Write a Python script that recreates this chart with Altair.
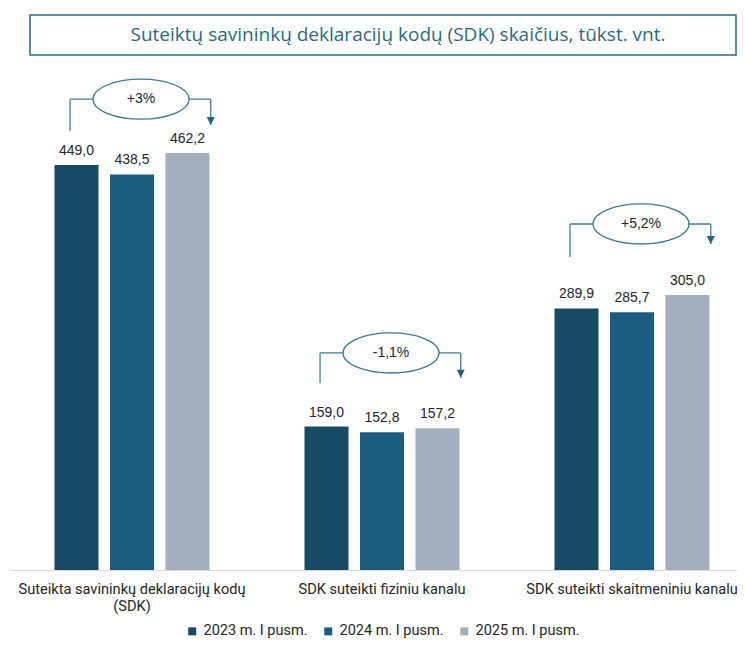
import altair as alt
import pandas as pd

# ---- data ----
categories = [
    "Suteikta savininkų deklaracijų kodų (SDK)",
    "SDK suteikti fiziniu kanalu",
    "SDK suteikti skaitmeniniu kanalu",
]
series = ["2023 m. I pusm.", "2024 m. I pusm.", "2025 m. I pusm."]
values_2023 = [449.0, 159.0, 289.9]
values_2024 = [438.5, 152.8, 285.7]
values_2025 = [462.2, 157.2, 305.0]
change_labels = ["+3%", "-1,1%", "+5,2%"]
# annotation bracket levels (in data units)
bracket_start = [486.7, 207.3, 347.0]
bracket_level = [522.0, 240.6, 383.6]
arrow_tip = [493.3, 213.0, 361.4]
colors = ["#164b63", "#1b5e80", "#a2b0bd"]
title_text = "Suteiktų savininkų deklaracijų kodų (SDK) skaičius, tūkst. vnt."

rows = []
for s, vals in zip(series, [values_2023, values_2024, values_2025]):
    for c, v in zip(categories, vals):
        rows.append({"category": c, "series": s, "value": v,
                     "label": f"{v:.1f}".replace(".", ",")})
bars_df = pd.DataFrame(rows)

ann_df = pd.DataFrame({
    "category": categories,
    "change": change_labels,
    "start": bracket_start,
    "level": bracket_level,
    "tip": arrow_tip,
})
title_df = pd.DataFrame({"t": [title_text]})

LINE = "#3d7c97"
BP_L, BP_R, BP_C = 0.205, 0.875, 0.543

x_scale = alt.Scale(paddingInner=0.16, paddingOuter=0.034, align=1, round=False)
label_expr = ("datum.value == '" + categories[0] + "' ? ['Suteikta savininkų deklaracijų kodų', '(SDK)'] : datum.label")

x_main = alt.X("category:N", sort=categories, scale=x_scale, title=None,
               axis=alt.Axis(labelAngle=0, ticks=False, domainColor="#d9d9d9", domainWidth=1,
                             labelFontSize=14.6, labelFont="Roboto", labelColor="#262626",
                             labelPadding=11, labelLineHeight=17, labelLimit=320,
                             labelBaseline="top", labelExpr=label_expr))
y_main = alt.Y("value:Q", scale=alt.Scale(domain=[0, 554.3], nice=False, zero=True), axis=None, title=None)
xoff = alt.XOffset("series:N", sort=series, scale=alt.Scale(paddingInner=0.207, paddingOuter=0.4955))

base = alt.Chart(bars_df)
bars = base.mark_bar().encode(
    x=x_main,
    xOffset=xoff,
    y=y_main,
    color=alt.Color("series:N", sort=series,
                    scale=alt.Scale(domain=series, range=colors),
                    legend=alt.Legend(orient="none", legendX=175, legendY=554, direction="horizontal",
                                      title=None, symbolType="square", symbolSize=64,
                                      symbolStrokeWidth=0, labelFontSize=14.5, labelFont="Roboto",
                                      labelColor="#262626", columnPadding=13, labelOffset=4, padding=0)),
)
value_labels = base.mark_text(baseline="bottom", dy=-7, fontSize=14, font="Liberation Sans",
                              color="#262626").encode(
    x=alt.X("category:N", sort=categories),
    xOffset=alt.XOffset("series:N", sort=series),
    y=alt.Y("value:Q"),
    text="label:N",
)

ann = alt.Chart(ann_df)
xl = alt.X("category:N", sort=categories, bandPosition=BP_L)
xr = alt.X("category:N", sort=categories, bandPosition=BP_R)
xc = alt.X("category:N", sort=categories, bandPosition=BP_C)

left_v = ann.mark_rule(color=LINE, strokeWidth=1.3).encode(x=xl, y=alt.Y("start:Q"), y2="level:Q")
horiz = ann.mark_rule(color=LINE, strokeWidth=1.3).encode(
    x=xl, x2=alt.X2(field="category", bandPosition=BP_R), y=alt.Y("level:Q"))
right_v = ann.mark_rule(color=LINE, strokeWidth=1.3).encode(x=xr, y=alt.Y("level:Q"), y2="tip:Q")
arrow = ann.mark_point(shape="M-1,-2 L1,-2 L0,0 Z", filled=True, size=64, color="#1f6282",
                       opacity=1).encode(x=xr, y=alt.Y("tip:Q"))
ellipse_path = ("M-1,0 C-1,-0.2303 -0.5523,-0.417 0,-0.417 C0.5523,-0.417 1,-0.2303 1,0 "
                "C1,0.2303 0.5523,0.417 0,0.417 C-0.5523,0.417 -1,0.2303 -1,0 Z")
ellipse = ann.mark_point(shape=ellipse_path, filled=True, fill="white", fillOpacity=1,
                         stroke=LINE, strokeWidth=1.3, strokeOpacity=1, size=9216,
                         opacity=1).encode(x=xc, y=alt.Y("level:Q"))
ellipse_text = ann.mark_text(fontSize=14, font="Liberation Sans", color="#262626").encode(
    x=xc, y=alt.Y("level:Q"), text="change:N")

title_box = alt.Chart(title_df).mark_rect(fill="white", stroke="#2b6a85", strokeWidth=1.5).encode(
    x=alt.value(20), x2=alt.value(726), y=alt.value(-55), y2=alt.value(-15))
title_txt = alt.Chart(title_df).mark_text(fontSize=19, font="Open Sans", color="#2b6a85").encode(
    x=alt.value(388), y=alt.value(-35), text="t:N")

chart = alt.layer(
    bars, value_labels, left_v, horiz, right_v, arrow, ellipse, ellipse_text, title_box, title_txt
).properties(
    width=727, height=500,
    padding={"left": 2, "top": 62, "right": 0, "bottom": 70},
    autosize=alt.AutoSizeParams(type="none"),
    background="white",
).configure_view(stroke=None)

chart.save("out.html", embed_options={"renderer": "svg", "actions": False})
